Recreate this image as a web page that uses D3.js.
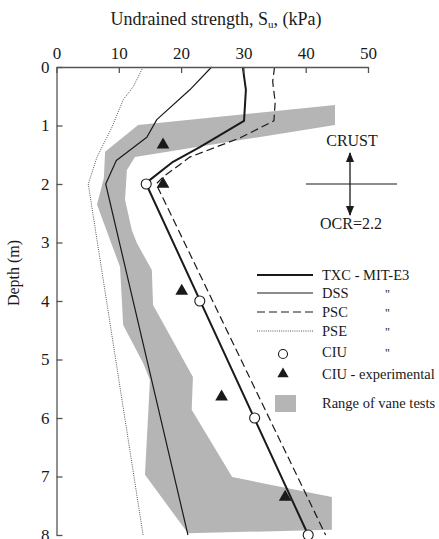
<!DOCTYPE html>
<html><head><meta charset="utf-8">
<script src="https://cdn.jsdelivr.net/npm/d3@7"></script>
<style>
html,body{margin:0;padding:0;background:#fff;}
svg text{font-family:"Liberation Serif","Times New Roman",Tinos,serif;fill:#1a1a1a;}
</style></head>
<body><svg id="c" width="439" height="539"></svg>
<script>
// ---- data (kPa, depth m) ----
const xTicks = [0,10,20,30,40,50];
const yTicks = [0,1,2,3,4,5,6,7,8];
const txc = [[29.9,0],[30.4,0.39],[30.1,0.92],[23,1.37],[18.7,1.62],[15,1.93],[14.4,2],[40.4,8]];
const dss = [[24.9,0],[21.4,0.39],[16.1,0.9],[14.5,1.2],[9.6,1.6],[7.9,2],[21.1,8]];
const psc = [[35,0],[34.7,0.25],[35.1,0.6],[34.9,0.92],[29.5,1.21],[21.4,1.54],[17.1,1.88],[16,2.0],[43.2,8]];
const pse = [[13.9,0],[12.3,0.34],[10.7,0.56],[8.9,1.03],[6.5,1.54],[5.1,2],[13.9,8]];
const ciuModel = [[14.4,2],[23,4],[31.8,6],[40.4,8]];
const ciuExp = [[17.1,1.33],[17.1,2.0],[20.1,3.83],[26.5,5.64],[36.7,7.35]];
const vane = [[13.1,0.99],[44.7,0.65],[44.7,0.99],[12.6,1.54],[11.3,1.76],[11.0,2.27],[12.1,2.79],[12.9,3.01],[15.3,3.47],[15.5,4.07],[21.9,5.3],[21.7,5.86],[28.2,7.01],[44.2,7.35],[44.2,7.91],[21.1,7.97],[14.2,6.97],[15.0,5.35],[13.9,5.06],[10.7,4.41],[10.2,3.42],[6.5,2.35],[7.6,1.9],[7.8,1.45]];
const legendLabels = ["TXC - MIT-E3","DSS","PSC","PSE","CIU","CIU - experimental","Range of vane tests"];

const FONT = "Liberation Serif, Times New Roman, serif";
const svg = d3.select("#c");
const x = d3.scaleLinear().domain([0,50]).range([56.5,368]);
const y = d3.scaleLinear().domain([0,8]).range([67,535]);
const line = d3.line().x(d=>x(d[0])).y(d=>y(d[1]));
const ink = "#1a1a1a";
const grey = "#b4b5b4";

// vane range
svg.append("path").attr("d", line(vane)+"Z").attr("fill", grey).attr("stroke","none");

// lines
const styles = {
  txc:{w:2, dash:null, c:ink},
  dss:{w:1.2, dash:null, c:ink},
  psc:{w:1.2, dash:"8,4", c:ink},
  pse:{w:1, dash:"1,1.2", c:"#555"}
};
[[pse,"pse"],[dss,"dss"],[psc,"psc"],[txc,"txc"]].forEach(([d,k])=>{
  svg.append("path").attr("d", line(d)).attr("fill","none")
    .attr("stroke", styles[k].c).attr("stroke-width", styles[k].w)
    .attr("stroke-dasharray", styles[k].dash).attr("stroke-linejoin","round");
});

// markers
const tri = d3.symbol().type(d3.symbolTriangle).size(70);
svg.selectAll(".tri").data(ciuExp).join("path").attr("class","tri")
  .attr("d", tri).attr("transform", d=>`translate(${x(d[0])},${y(d[1])})`).attr("fill", ink);
svg.selectAll(".cir").data(ciuModel).join("circle").attr("class","cir")
  .attr("cx", d=>x(d[0])).attr("cy", d=>y(d[1])).attr("r",5)
  .attr("fill","#fff").attr("stroke",ink).attr("stroke-width",1.1);

// axes
const ax = svg.append("g").attr("transform",`translate(0,${y(0)})`)
  .call(d3.axisTop(x).tickValues(xTicks).tickSize(-6).tickSizeOuter(0).tickPadding(8));
const ay = svg.append("g").attr("transform",`translate(${x(0)},0)`)
  .call(d3.axisLeft(y).tickValues(yTicks).tickSize(-6).tickSizeOuter(0).tickPadding(7));
[ax,ay].forEach(g=>{
  g.attr("font-family", FONT);
  g.selectAll("path,line").attr("stroke","#555").attr("stroke-width",1.3);
  g.selectAll("text").attr("font-size",17).attr("font-family",FONT).attr("fill",ink);
});

// titles
const t = svg.append("text").attr("x",216).attr("y",25).attr("text-anchor","middle")
  .attr("font-size",18).attr("font-family",FONT);
t.append("tspan").text("Undrained strength, S");
t.append("tspan").attr("font-size",11).attr("dy",3).text("u");
t.append("tspan").attr("dy",-3).text(", (kPa)");
svg.append("text").attr("transform","translate(19,273) rotate(-90)")
  .attr("text-anchor","middle").attr("font-size",16).attr("font-family",FONT).text("Depth (m)");

// CRUST annotation
const defs = svg.append("defs");
defs.append("marker").attr("id","ah").attr("viewBox","0 0 10 10").attr("refX",9).attr("refY",5)
  .attr("markerWidth",8).attr("markerHeight",8).attr("orient","auto-start-reverse")
  .append("path").attr("d","M0,1L10,5L0,9Z").attr("fill",ink);
svg.append("line").attr("x1",350).attr("x2",350).attr("y1",153).attr("y2",215)
  .attr("stroke",ink).attr("stroke-width",1.3)
  .attr("marker-start","url(#ah)").attr("marker-end","url(#ah)");
svg.append("line").attr("x1",306).attr("x2",397).attr("y1",184).attr("y2",184)
  .attr("stroke",ink).attr("stroke-width",1.2);
svg.append("text").attr("x",352).attr("y",146).attr("text-anchor","middle").attr("font-size",16).attr("font-family",FONT).text("CRUST");
svg.append("text").attr("x",351).attr("y",229).attr("text-anchor","middle").attr("font-size",16).attr("font-family",FONT).text("OCR=2.2");

// legend
const lg = svg.append("g").attr("font-family",FONT);
const lineRows = [[275,"txc"],[293,"dss"],[312,"psc"],[331,"pse"]];
lineRows.forEach(([ly,k],i)=>{
  lg.append("path").attr("d", d3.line()([[257,ly],[313,ly]])).attr("fill","none")
    .attr("stroke", styles[k].c).attr("stroke-width", styles[k].w).attr("stroke-dasharray", styles[k].dash);
  lg.append("text").attr("x",322).attr("y",ly+5).attr("font-size",14.5).attr("font-family",FONT).text(legendLabels[i]);
  if(i>0) lg.append("text").attr("x",385).attr("y",ly+5).attr("font-size",12).attr("font-family",FONT).text("\"");
});
lg.append("circle").attr("cx",283).attr("cy",354).attr("r",4.5).attr("fill","#fff").attr("stroke",ink).attr("stroke-width",1.1);
lg.append("text").attr("x",322).attr("y",357).attr("font-size",14.5).attr("font-family",FONT).text(legendLabels[4]);
lg.append("text").attr("x",385).attr("y",357).attr("font-size",12).attr("font-family",FONT).text("\"");
lg.append("path").attr("d", d3.symbol().type(d3.symbolTriangle).size(55)).attr("transform","translate(283,374)").attr("fill",ink);
lg.append("text").attr("x",322).attr("y",379).attr("font-size",14.5).attr("font-family",FONT).text(legendLabels[5]);
lg.append("rect").attr("x",275).attr("y",395).attr("width",21).attr("height",17).attr("fill",grey);
lg.append("text").attr("x",322).attr("y",408).attr("font-size",14.5).attr("font-family",FONT).text(legendLabels[6]);
</script></body></html>
